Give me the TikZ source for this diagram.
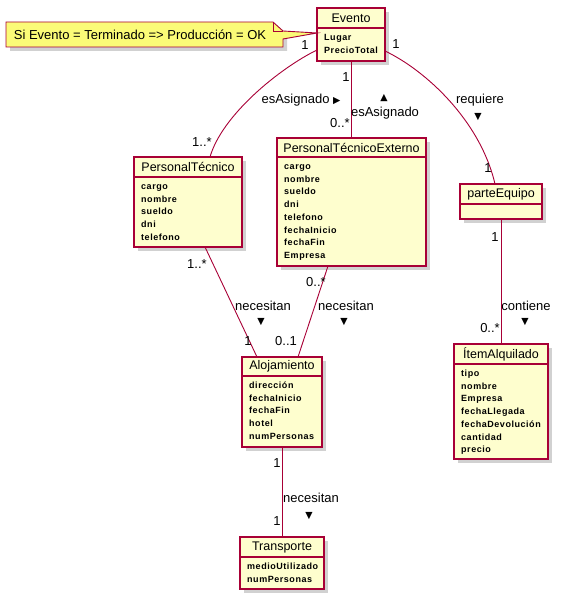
\documentclass[tikz,border=0pt]{standalone}
\usepackage{fontspec}
\setmainfont{Liberation Sans}
\newfontfamily\attrfont{Liberation Sans}[LetterSpace=6]
\newfontfamily\trifont{DejaVu Sans}
\definecolor{umlborder}{HTML}{A80036}
\definecolor{umlfill}{HTML}{FEFECE}
\definecolor{notefill}{HTML}{FBFB77}
% #1 name, #2 left, #3 top, #4 right, #5 divider, #6 bottom, #7 title, #8 attributes
\newcommand{\umlclass}[8]{\fill[boxshadow] ({#2+4},{#3+4}) rectangle ({#4+4},{#6+4});
  \node[classbox, minimum width={(#4-#2)*1pt}, minimum height={(#6-#3)*1pt}] (#1) at ({(#2+#4)/2},{(#3+#6)/2}) {};
  \draw[classline] (#2,#5) -- (#4,#5);
  \node[classtitle] (#1-title) at ({(#2+#4)/2},{(#3+#5)/2}) {#7};
  \foreach \attr [count=\i] in {#8} \node[attrtext] (#1-a\i) at ({#2+7},{#5+12.5+(\i-1)*12.7}) {\attr};}

\begin{document}
\begin{tikzpicture}[x=1pt, y=-1pt,
    boxshadow/.style={fill=black, opacity=0.18},
    classbox/.style={draw=umlborder, fill=umlfill, line width=1.3pt, inner sep=0pt, outer sep=0pt},
    classline/.style={draw=umlborder, line width=1.3pt},
    classtitle/.style={inner sep=0pt, font=\fontsize{12.5}{14}\selectfont},
    attrtext/.style={anchor=base west, inner sep=0pt, font=\attrfont\bfseries\fontsize{9}{10}\selectfont},
    assoc/.style={draw=umlborder, line width=0.9pt},
    lbl/.style={inner sep=0pt, font=\fontsize{13}{14}\selectfont},
    tri/.style={inner sep=0pt, font=\trifont\fontsize{9.5}{10}\selectfont}]
    \useasboundingbox (0,0) rectangle (562,599);
    % classes
    \umlclass{evento}{317}{8}{385}{28}{61}{Evento}{Lugar,PrecioTotal}
    \umlclass{tecnico}{134}{157}{242}{177}{247}{PersonalTécnico}{cargo,nombre,sueldo,dni,telefono}
    \umlclass{externo}{277}{138}{426}{157}{266}{PersonalTécnicoExterno}{cargo,nombre,sueldo,dni,telefono,fechaInicio,fechaFin,Empresa}
    \umlclass{equipo}{460}{184}{542}{204}{219}{parteEquipo}{}
    \umlclass{aloj}{242}{357}{322}{376}{447}{Alojamiento}{dirección,fechaInicio,fechaFin,hotel,numPersonas}
    \umlclass{item}{454}{344}{548}{364}{459}{ÍtemAlquilado}{tipo,nombre,Empresa,fechaLlegada,fechaDevolución,cantidad,precio}
    \umlclass{transporte}{240}{537}{324}{557}{589}{Transporte}{medioUtilizado,numPersonas}
    % associations
    \draw[assoc] ([yshift=-15.5pt]evento.west) .. controls (280,68) and (222,115) .. ([xshift=22pt]tecnico.north);
    \draw[assoc] ([yshift=-16.5pt]evento.east) .. controls (425,70) and (480,120) .. ([xshift=-6pt]equipo.north);
    \draw[assoc] (evento.south) -- (evento.south |- externo.north);
    \draw[assoc] ([xshift=17pt]tecnico.south) -- ([xshift=-25pt]aloj.north);
    \draw[assoc] ([xshift=-23.5pt]externo.south) -- ([xshift=16pt]aloj.north);
    \draw[assoc] (equipo.south) -- (item.north);
    \draw[assoc] (aloj.south) -- (transporte.north);
    % note
    \fill[boxshadow] (10,26) -- (277,26) -- (287,35) -- (287,51) -- (10,51) -- cycle;
    \filldraw[draw=umlborder, fill=notefill, line width=0.9pt] (6,22) -- (273,22) -- (283,31) -- ([yshift=1.5pt]evento.west) -- (283,39) -- (283,47) -- (6,47) -- cycle;
    \draw[draw=umlborder, line width=0.9pt] (273,22) -- (273,31) -- (283,31);
    \node[lbl] (nota) at (140,34.5) {Si Evento = Terminado => Producción = OK};
    % labels
    \node[lbl] (m1) at (305,45) {1};
    \node[lbl] (m2) at (202,142) {1..*};
    \node[lbl] (asig1) at (301,100) {esAsignado \trifont\fontsize{9.5}{10}\selectfont ▶};
    \node[lbl] (m3) at (346,77) {1};
    \node[lbl] (m4) at (340,123) {0..*};
    \node[tri] (asig2t) at (384,98) {▲};
    \node[lbl] (asig2) at (385,113) {esAsignado};
    \node[lbl] (m5) at (396,44) {1};
    \node[lbl] (req) at (480,100) {requiere};
    \node[tri] (reqt) at (478,117) {▼};
    \node[lbl] (m6) at (488,168) {1};
    \node[lbl] (m7) at (197,264) {1..*};
    \node[lbl] (nec1) at (263,306) {necesitan};
    \node[tri] (nec1t) at (261,322) {▼};
    \node[lbl] (m8) at (248,341) {1};
    \node[lbl] (m9) at (316,282) {0..*};
    \node[lbl] (m10) at (286,341) {0..1};
    \node[lbl] (nec2) at (346,306) {necesitan};
    \node[tri] (nec2t) at (344,322) {▼};
    \node[lbl] (m11) at (495,237) {1};
    \node[lbl] (m12) at (490,328) {0..*};
    \node[lbl] (cont) at (526,306) {contiene};
    \node[tri] (contt) at (525,322) {▼};
    \node[lbl] (m13) at (277,463) {1};
    \node[lbl] (m14) at (277,521) {1};
    \node[lbl] (nec3) at (311,498) {necesitan};
    \node[tri] (nec3t) at (309,516) {▼};
\end{tikzpicture}
\end{document}
